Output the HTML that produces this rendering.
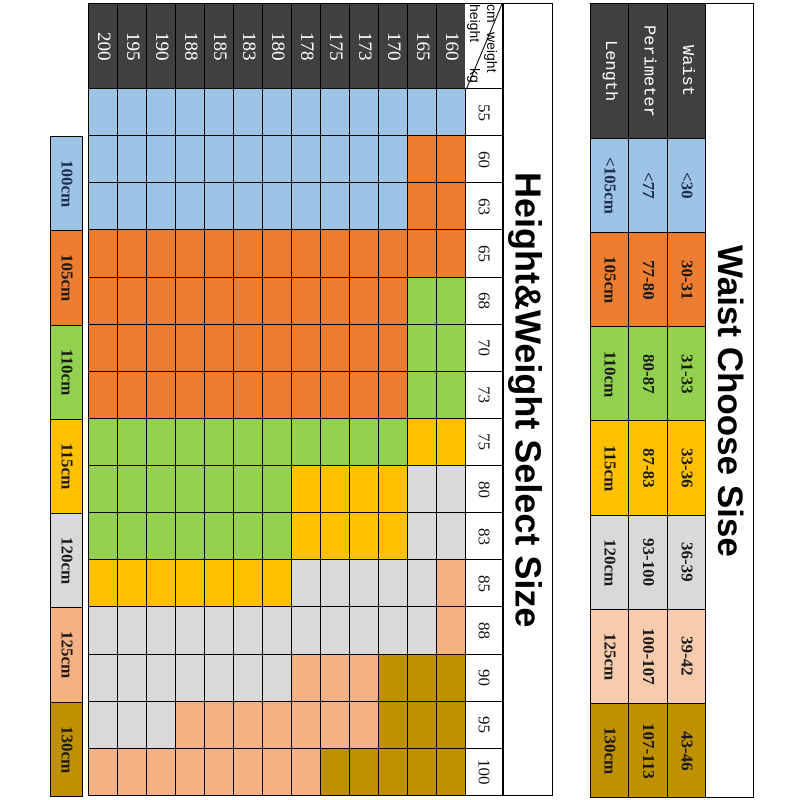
<!DOCTYPE html>
<html><head><meta charset="utf-8"><style>
*{margin:0;padding:0;box-sizing:border-box}
body{width:800px;height:800px;background:#fff;position:relative;overflow:hidden;font-family:"Liberation Serif",serif}
.a{position:absolute}
.v{writing-mode:vertical-rl;display:flex!important;align-items:center;justify-content:center;white-space:nowrap;font-style:normal}
.grid{display:grid;gap:1px;background:#000;border:1px solid #000}
.grid>i{display:block;font-style:normal}
.B{background:#9dc3e6}.O{background:#ed7d31}.G{background:#92d050}.Y{background:#ffc000}.S{background:#d9d9d9}.P{background:#f4b183}.N{background:#bf9000}.L{background:#f8cbad}.D{background:#404040}
.hd{color:#fff;font-size:19px}
.wt{font-size:17px;color:#111}
.rt>div{font-weight:bold;font-size:17px;color:#1a1a1a}
.mono{font-family:"Liberation Mono",monospace!important;color:#fff!important;font-size:17px!important;font-weight:normal!important}
</style></head><body>

<div class="a" style="left:88px;top:3px;width:465px;height:793px;border:1px solid #000"></div>
<div class="a v" style="left:503px;top:3px;width:49px;height:793px;font-family:'Liberation Sans',sans-serif;font-weight:bold;font-size:36px;color:#000">Height&amp;Weight Select Size</div>
<div class="a" style="left:503px;top:3px;width:1px;height:793px;background:#000"></div>

<div class="a grid" style="left:88px;top:3px;width:378px;height:86px;grid-template-columns:repeat(13,1fr)">
<i class="D v hd">200</i><i class="D v hd">195</i><i class="D v hd">190</i><i class="D v hd">188</i><i class="D v hd">185</i><i class="D v hd">183</i><i class="D v hd">180</i><i class="D v hd">178</i><i class="D v hd">175</i><i class="D v hd">173</i><i class="D v hd">170</i><i class="D v hd">165</i><i class="D v hd">160</i>
</div>
<div class="a" style="left:465px;top:3px;width:38px;height:86px;border:1px solid #000;border-left:none;overflow:hidden;font-family:'Liberation Sans',sans-serif;font-size:14px;line-height:15px;background:#fff">
<svg class="a" style="left:0;top:0" width="38" height="86"><line x1="37" y1="0" x2="1" y2="86" stroke="#000" stroke-width="1"/></svg>
<div class="a" style="left:19px;top:0;writing-mode:vertical-rl">cm</div>
<div class="a" style="left:19px;top:28px;writing-mode:vertical-rl">weight</div>
<div class="a" style="left:2px;top:0;writing-mode:vertical-rl">height</div>
<div class="a" style="left:2px;top:64px;writing-mode:vertical-rl">kg</div>
</div>
<div class="a grid" style="left:465px;top:88px;width:38px;height:708px;grid-template-rows:repeat(15,1fr);border-left:none;background:#000">
<i class="v wt" style="background:#fff">55</i><i class="v wt" style="background:#fff">60</i><i class="v wt" style="background:#fff">63</i><i class="v wt" style="background:#fff">65</i><i class="v wt" style="background:#fff">68</i><i class="v wt" style="background:#fff">70</i><i class="v wt" style="background:#fff">73</i><i class="v wt" style="background:#fff">75</i><i class="v wt" style="background:#fff">80</i><i class="v wt" style="background:#fff">83</i><i class="v wt" style="background:#fff">85</i><i class="v wt" style="background:#fff">88</i><i class="v wt" style="background:#fff">90</i><i class="v wt" style="background:#fff">95</i><i class="v wt" style="background:#fff">100</i>
</div>
<div class="a grid" style="left:88px;top:88px;width:378px;height:708px;grid-template-columns:repeat(13,1fr);grid-template-rows:repeat(15,1fr)">
<i class=B></i><i class=B></i><i class=B></i><i class=B></i><i class=B></i><i class=B></i><i class=B></i><i class=B></i><i class=B></i><i class=B></i><i class=B></i><i class=B></i><i class=B></i>
<i class=B></i><i class=B></i><i class=B></i><i class=B></i><i class=B></i><i class=B></i><i class=B></i><i class=B></i><i class=B></i><i class=B></i><i class=B></i><i class=O></i><i class=O></i>
<i class=B></i><i class=B></i><i class=B></i><i class=B></i><i class=B></i><i class=B></i><i class=B></i><i class=B></i><i class=B></i><i class=B></i><i class=B></i><i class=O></i><i class=O></i>
<i class=O></i><i class=O></i><i class=O></i><i class=O></i><i class=O></i><i class=O></i><i class=O></i><i class=O></i><i class=O></i><i class=O></i><i class=O></i><i class=O></i><i class=O></i>
<i class=O></i><i class=O></i><i class=O></i><i class=O></i><i class=O></i><i class=O></i><i class=O></i><i class=O></i><i class=O></i><i class=O></i><i class=O></i><i class=G></i><i class=G></i>
<i class=O></i><i class=O></i><i class=O></i><i class=O></i><i class=O></i><i class=O></i><i class=O></i><i class=O></i><i class=O></i><i class=O></i><i class=O></i><i class=G></i><i class=G></i>
<i class=O></i><i class=O></i><i class=O></i><i class=O></i><i class=O></i><i class=O></i><i class=O></i><i class=O></i><i class=O></i><i class=O></i><i class=O></i><i class=G></i><i class=G></i>
<i class=G></i><i class=G></i><i class=G></i><i class=G></i><i class=G></i><i class=G></i><i class=G></i><i class=G></i><i class=G></i><i class=G></i><i class=G></i><i class=Y></i><i class=Y></i>
<i class=G></i><i class=G></i><i class=G></i><i class=G></i><i class=G></i><i class=G></i><i class=G></i><i class=Y></i><i class=Y></i><i class=Y></i><i class=Y></i><i class=S></i><i class=S></i>
<i class=G></i><i class=G></i><i class=G></i><i class=G></i><i class=G></i><i class=G></i><i class=G></i><i class=Y></i><i class=Y></i><i class=Y></i><i class=Y></i><i class=S></i><i class=S></i>
<i class=Y></i><i class=Y></i><i class=Y></i><i class=Y></i><i class=Y></i><i class=Y></i><i class=Y></i><i class=S></i><i class=S></i><i class=S></i><i class=S></i><i class=S></i><i class=P></i>
<i class=S></i><i class=S></i><i class=S></i><i class=S></i><i class=S></i><i class=S></i><i class=S></i><i class=S></i><i class=S></i><i class=S></i><i class=S></i><i class=S></i><i class=P></i>
<i class=S></i><i class=S></i><i class=S></i><i class=S></i><i class=S></i><i class=S></i><i class=S></i><i class=P></i><i class=P></i><i class=P></i><i class=N></i><i class=N></i><i class=N></i>
<i class=S></i><i class=S></i><i class=S></i><i class=P></i><i class=P></i><i class=P></i><i class=P></i><i class=P></i><i class=P></i><i class=P></i><i class=N></i><i class=N></i><i class=N></i>
<i class=P></i><i class=P></i><i class=P></i><i class=P></i><i class=P></i><i class=P></i><i class=P></i><i class=P></i><i class=N></i><i class=N></i><i class=N></i><i class=N></i><i class=N></i>
</div>

<div class="a grid rt" style="left:50px;top:136px;width:33px;height:661px;grid-template-rows:repeat(7,1fr)">
<div class="B v" style="color:#1f2d50">100cm</div><div class="O v">105cm</div><div class="G v">110cm</div><div class="Y v">115cm</div><div class="S v">120cm</div><div class="P v">125cm</div><div class="N v">130cm</div>
</div>

<div class="a" style="left:590px;top:3px;width:164px;height:795px;border:1px solid #000"></div>
<div class="a v" style="left:705px;top:3px;width:48px;height:795px;font-family:'Liberation Sans',sans-serif;font-weight:bold;font-size:35px;color:#000">Waist Choose Sise</div>
<div class="a grid rt" style="left:590px;top:3px;width:116px;height:795px;grid-template-columns:repeat(3,1fr);grid-template-rows:134px repeat(7,1fr)">
<div class="D v mono">Length</div><div class="D v mono">Perimeter</div><div class="D v mono">Waist</div>
<div class="B v" style="color:#1f2d50">&lt;105cm</div><div class="B v" style="color:#1f2d50">&lt;77</div><div class="B v" style="color:#1f2d50">&lt;30</div>
<div class="O v">105cm</div><div class="O v">77-80</div><div class="O v">30-31</div>
<div class="G v">110cm</div><div class="G v">80-87</div><div class="G v">31-33</div>
<div class="Y v">115cm</div><div class="Y v">87-83</div><div class="Y v">33-36</div>
<div class="S v">120cm</div><div class="S v">93-100</div><div class="S v">36-39</div>
<div class="L v">125cm</div><div class="L v">100-107</div><div class="L v">39-42</div>
<div class="N v">130cm</div><div class="N v">107-113</div><div class="N v">43-46</div>
</div>
</body></html>
